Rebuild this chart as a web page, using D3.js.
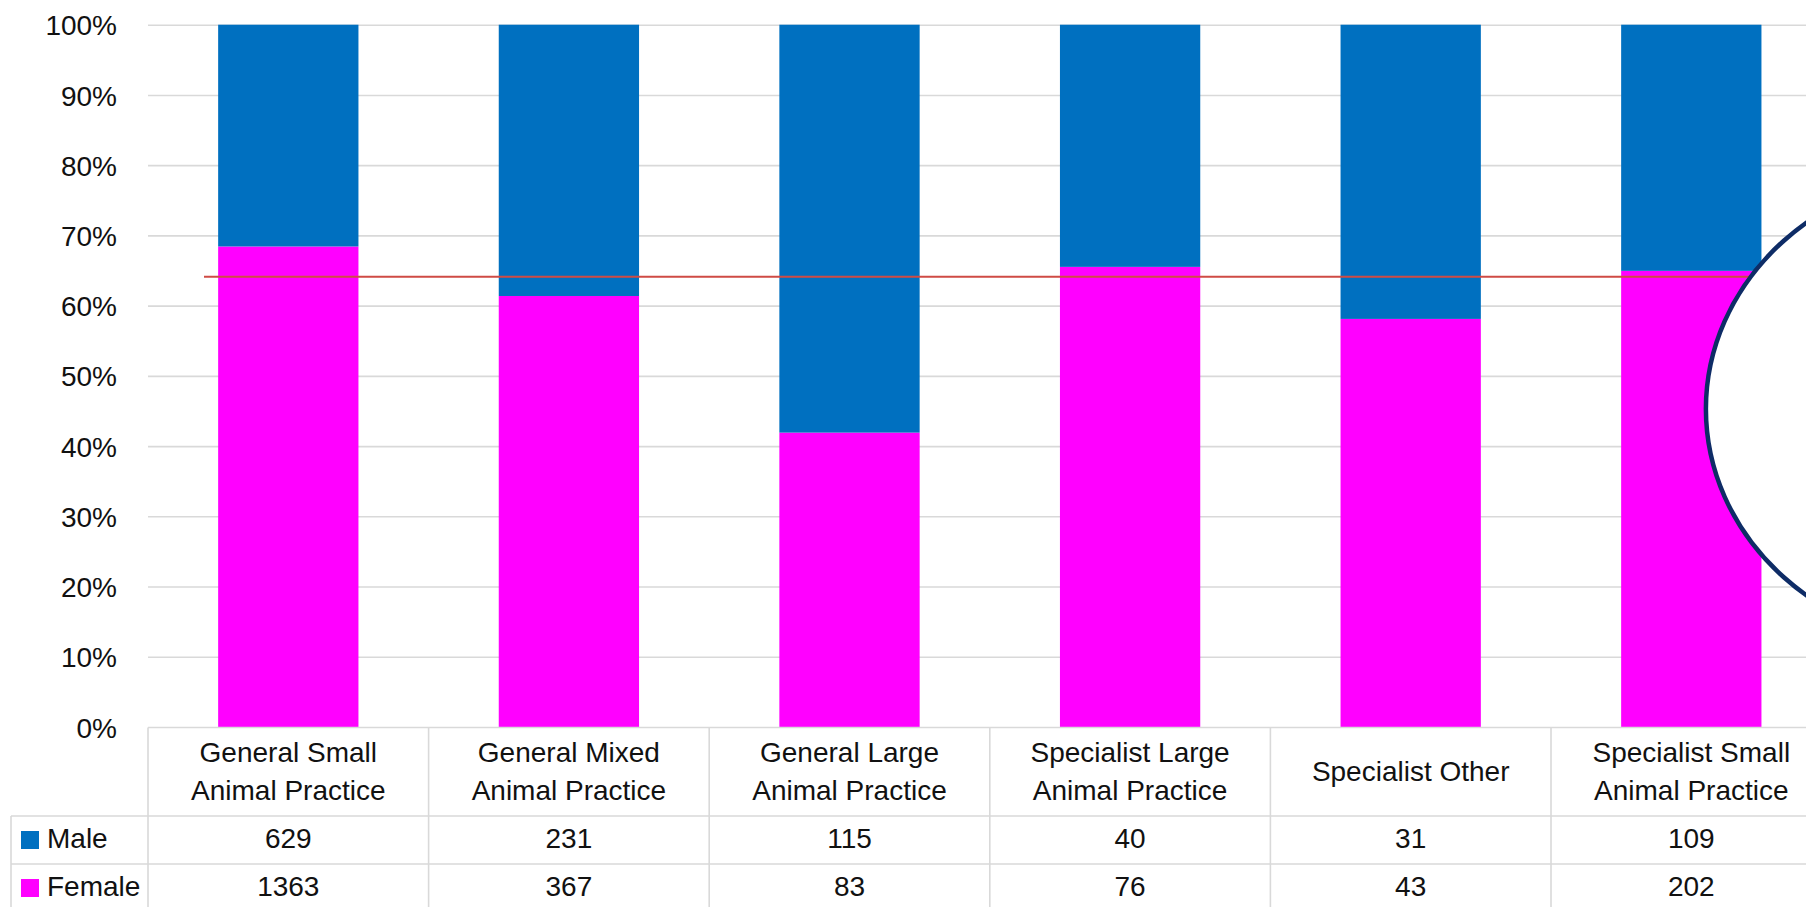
<!DOCTYPE html>
<html>
<head>
<meta charset="utf-8">
<script src="https://cdn.jsdelivr.net/npm/d3@7/dist/d3.min.js"></script>
<style>
  html, body { margin: 0; padding: 0; background: #fff; overflow: hidden; }
  svg { display: block; }
  text { font-family: "Liberation Sans", Arial, sans-serif; fill: #111; }
</style>
</head>
<body>
<svg id="chart" width="1806" height="907"></svg>
<script>
// Practice types (two-line labels) and head counts by gender
const categories = [
  ["General Small", "Animal Practice"],
  ["General Mixed", "Animal Practice"],
  ["General Large", "Animal Practice"],
  ["Specialist Large", "Animal Practice"],
  ["Specialist Other"],
  ["Specialist Small", "Animal Practice"]
];
const maleCounts   = [629, 231, 115, 40, 31, 109];
const femaleCounts = [1363, 367, 83, 76, 43, 202];
const seriesNames  = ["Male", "Female"];
const seriesColors = ["#0070C0", "#FF00FF"];
const yTicks = [0, 0.1, 0.2, 0.3, 0.4, 0.5, 0.6, 0.7, 0.8, 0.9, 1];
// overall female share reference line
const femaleAverage = 0.641;

const svg = d3.select("#chart");
const plotLeft = 148, plotTop = 24.7, plotBottom = 727;
const colW = 280.6;
const fontSize = 28;

const x = d3.scaleBand()
  .domain(d3.range(categories.length))
  .range([plotLeft, plotLeft + colW * categories.length])
  .paddingInner(0.5)
  .paddingOuter(0.25);
const y = d3.scaleLinear().domain([0, 1]).range([plotBottom, plotTop]);

// gridlines + y tick labels
const yAxis = d3.axisLeft(y)
  .tickValues(yTicks)
  .tickSize(-(1806 - plotLeft + 40))
  .tickFormat(d3.format(".0%"));
const gAxis = svg.append("g").attr("transform", `translate(${plotLeft},0)`).call(yAxis);
gAxis.select(".domain").remove();
gAxis.selectAll(".tick line").attr("stroke", "#D9D9D9").attr("stroke-width", 1.6)
  .filter(d => d === 0).remove();
gAxis.selectAll(".tick text")
  .attr("x", -31).attr("dy", "0.36em")
  .attr("font-size", fontSize).attr("font-family", "Liberation Sans, Arial, sans-serif")
  .attr("fill", "#111");

// stacked 100% bars
const rows = categories.map((c, i) => {
  const tot = maleCounts[i] + femaleCounts[i];
  return { i, female: femaleCounts[i] / tot, male: maleCounts[i] / tot };
});
const stack = d3.stack().keys(["female", "male"]);
const layers = stack(rows);
const colorOf = { female: seriesColors[1], male: seriesColors[0] };
svg.append("g").selectAll("g").data(layers).join("g")
  .attr("fill", d => colorOf[d.key])
  .selectAll("rect").data(d => d).join("rect")
  .attr("x", d => x(d.data.i))
  .attr("width", x.bandwidth())
  .attr("y", d => y(d[1]))
  .attr("height", d => y(d[0]) - y(d[1]));

// average line
svg.append("line")
  .attr("x1", 204).attr("x2", 1806 + 40)
  .attr("y1", y(femaleAverage)).attr("y2", y(femaleAverage))
  .attr("stroke", "#CF4B45").attr("stroke-width", 2);

// highlight ellipse centred on the next column
const step = x.step();
svg.append("ellipse")
  .attr("cx", plotLeft + step * (categories.length + 0.5))
  .attr("cy", 409)
  .attr("rx", 266).attr("ry", 238)
  .attr("fill", "#fff")
  .attr("stroke", "#0E2C66").attr("stroke-width", 4.5);

// data table beneath the axis
const tbl = svg.append("g");
const rowTop = 727.5, rowHead = 816, rowMale = 864, rowEnd = 912;
const lineColor = "#D9D9D9", lw = 1.6;
const colEdges = d3.range(categories.length + 1).map(k => plotLeft + k * step);
const rightEdge = colEdges[colEdges.length - 1];

tbl.append("line").attr("x1", plotLeft).attr("x2", rightEdge).attr("y1", rowTop).attr("y2", rowTop)
  .attr("stroke", lineColor).attr("stroke-width", lw);
[rowHead, rowMale, rowEnd].forEach(yy => {
  tbl.append("line").attr("x1", 11).attr("x2", rightEdge).attr("y1", yy).attr("y2", yy)
    .attr("stroke", lineColor).attr("stroke-width", lw);
});
colEdges.forEach(xx => {
  tbl.append("line").attr("x1", xx).attr("x2", xx).attr("y1", rowTop).attr("y2", rowEnd)
    .attr("stroke", lineColor).attr("stroke-width", lw);
});
tbl.append("line").attr("x1", 11).attr("x2", 11).attr("y1", rowHead).attr("y2", rowEnd)
  .attr("stroke", lineColor).attr("stroke-width", lw);

// category labels
categories.forEach((lines, i) => {
  const cx = x(i) + x.bandwidth() / 2;
  const mid = (rowTop + rowHead) / 2;
  const lh = 38;
  const t = tbl.append("text").attr("text-anchor", "middle").attr("font-size", fontSize);
  lines.forEach((ln, k) => {
    t.append("tspan").attr("x", cx)
      .attr("y", mid + (k - (lines.length - 1) / 2) * lh + fontSize * 0.33)
      .text(ln);
  });
});

// value rows with legend keys
const valueRows = [
  { name: seriesNames[0], color: seriesColors[0], vals: maleCounts, y0: rowHead, y1: rowMale },
  { name: seriesNames[1], color: seriesColors[1], vals: femaleCounts, y0: rowMale, y1: rowEnd }
];
valueRows.forEach(r => {
  const mid = (r.y0 + r.y1) / 2;
  tbl.append("rect").attr("x", 21).attr("y", mid - 9).attr("width", 18).attr("height", 18)
    .attr("fill", r.color);
  tbl.append("text").attr("x", 47).attr("y", mid + fontSize * 0.3)
    .attr("font-size", fontSize).text(r.name);
  r.vals.forEach((v, i) => {
    tbl.append("text").attr("x", x(i) + x.bandwidth() / 2).attr("y", mid + fontSize * 0.3)
      .attr("text-anchor", "middle").attr("font-size", fontSize).text(v);
  });
});
</script>
</body>
</html>
